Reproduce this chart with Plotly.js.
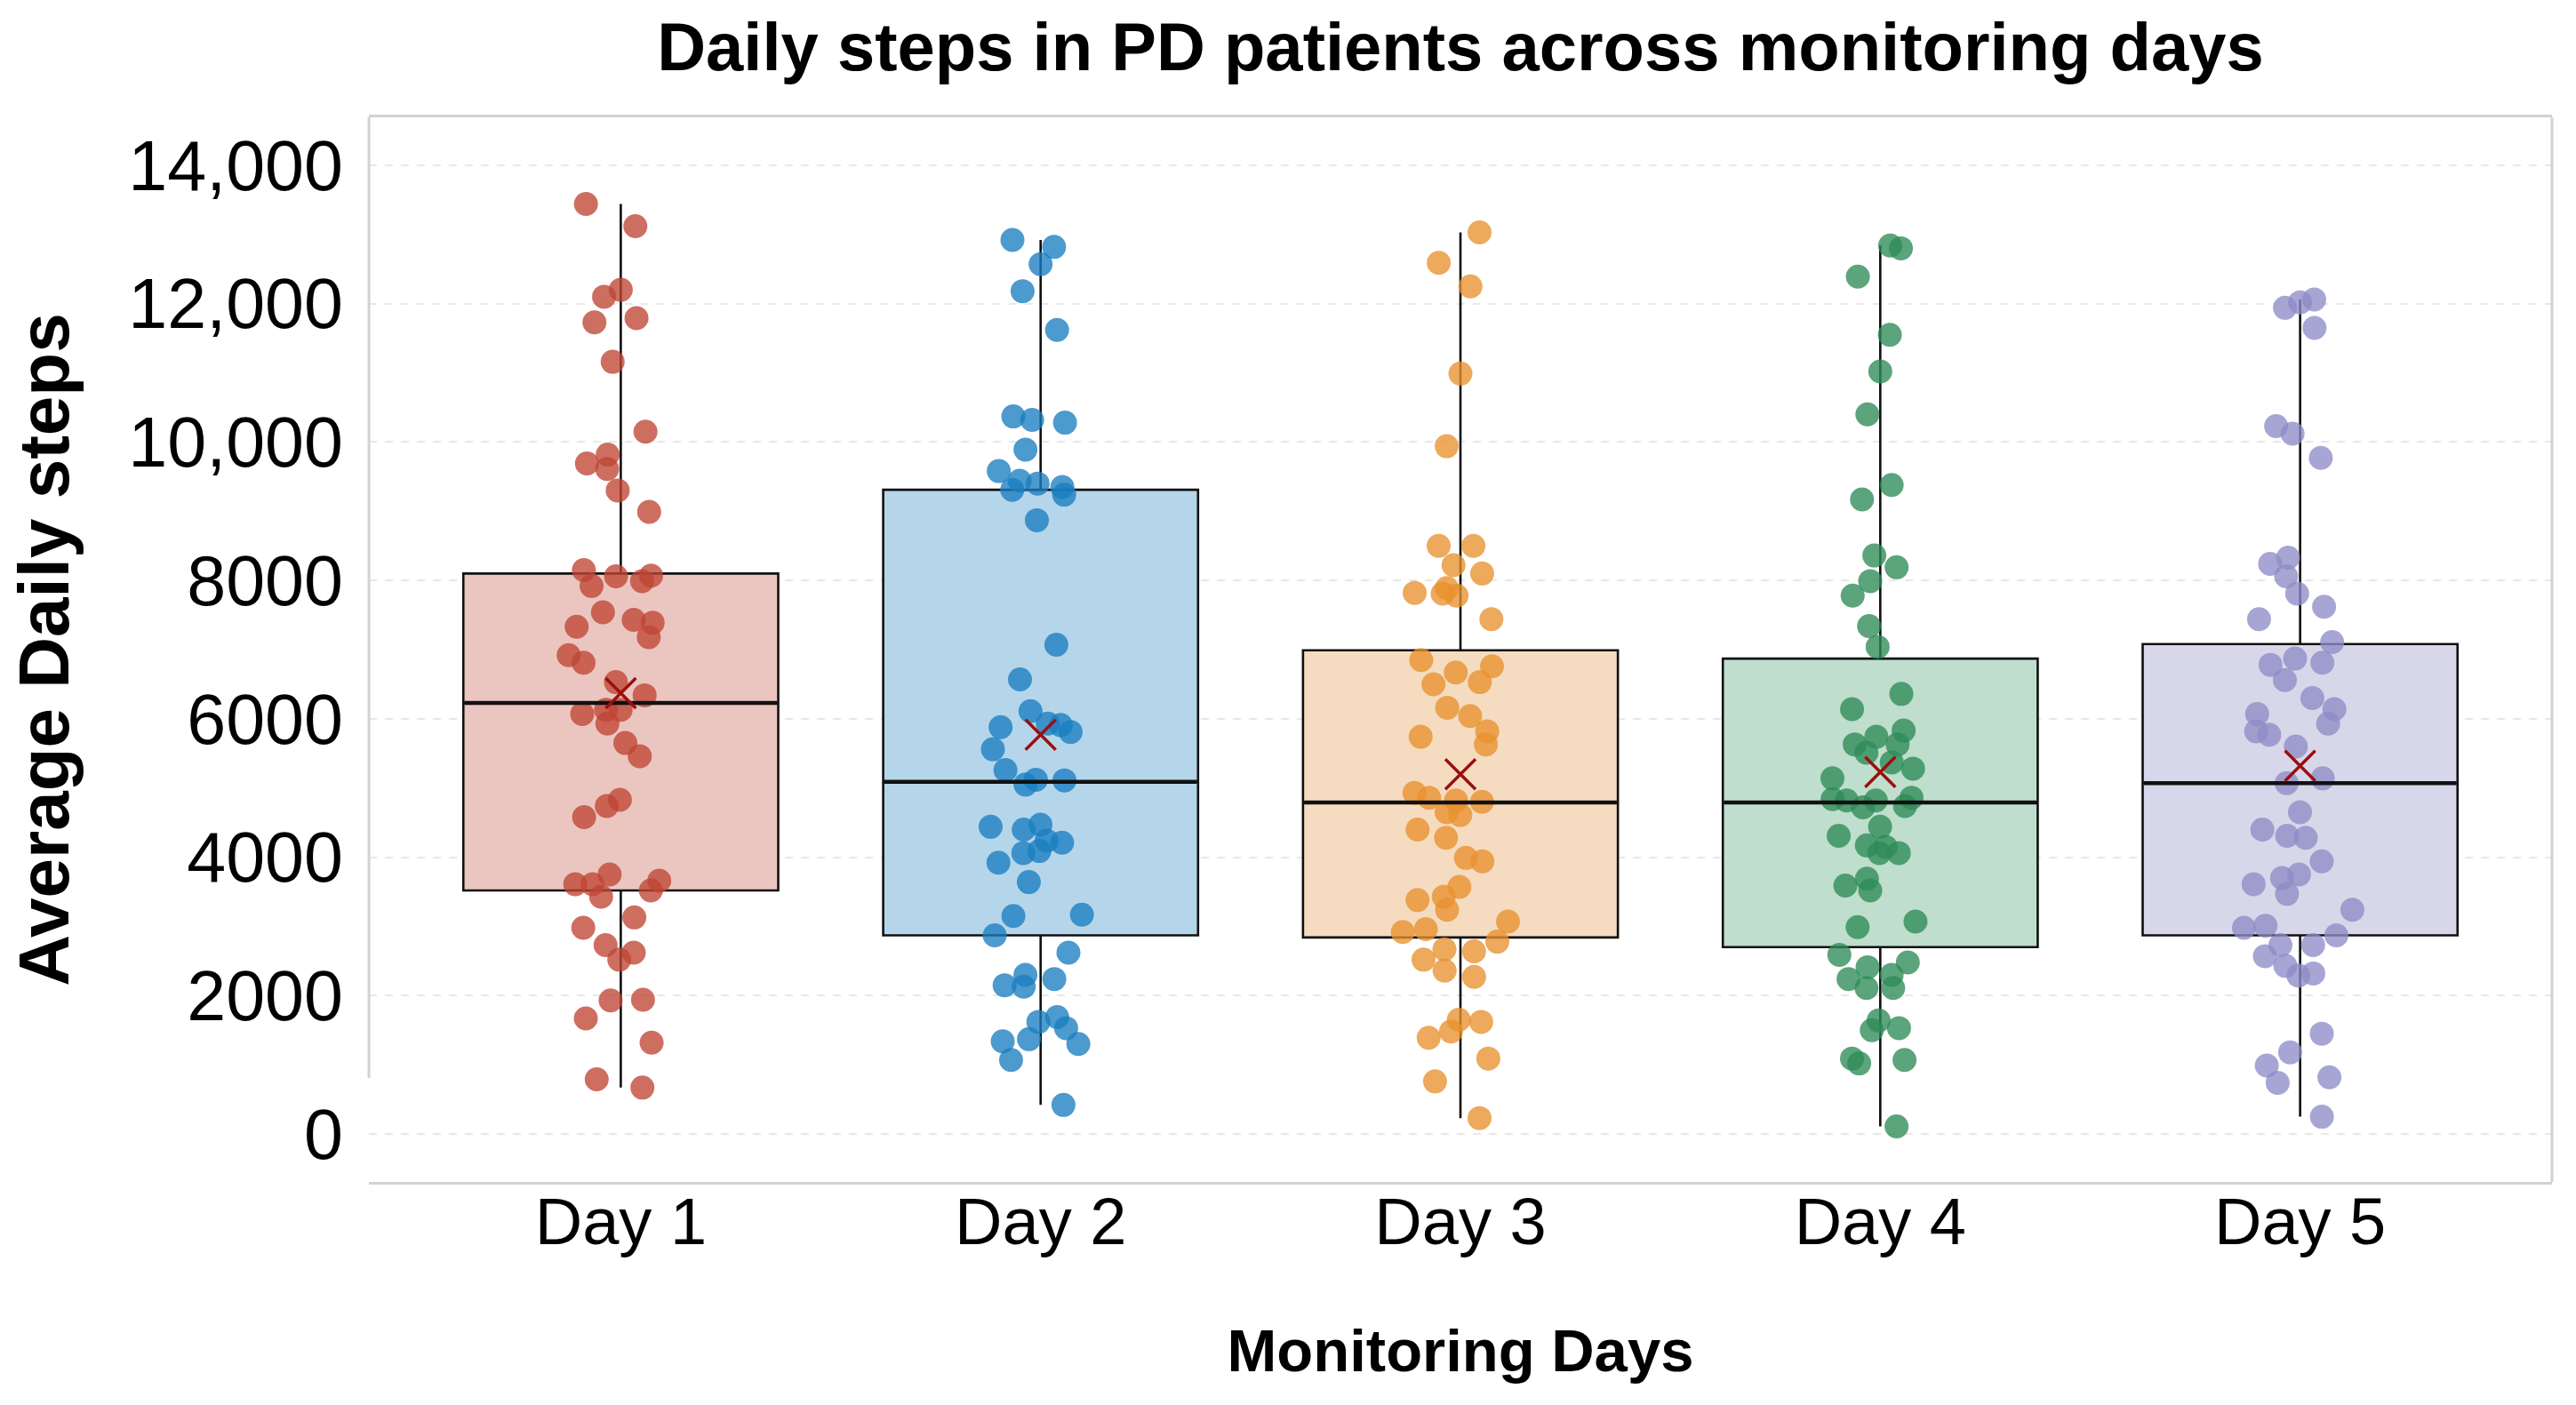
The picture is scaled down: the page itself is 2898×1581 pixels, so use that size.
<!DOCTYPE html>
<html>
<head>
<meta charset="utf-8">
<script src="https://cdn.plot.ly/plotly-3.0.1.min.js"></script>
<style>
  html, body { margin: 0; padding: 0; background: #ffffff; }
  #chart { width: 2898px; height: 1581px; }
</style>
</head>
<body>
<div id="chart"></div>
<script>
// ---- Data ----
const days = ["Day 1", "Day 2", "Day 3", "Day 4", "Day 5"];

const day1Steps = [13440,13120,12200,12100,11790,11730,11160,10150,9820,9690,9610,9300,8990,
  8150,8070,8060,7990,7920,7540,7430,7390,7330,7180,6920,6810,6530,6340,6130,6070,6130,5930,
  5650,5460,4830,4740,4580,3750,3660,3610,3610,3520,3430,3130,2980,2730,2620,2520,1940,1930,
  1670,1320,790,670];
const day2Steps = [12920,12820,12570,12180,11620,10370,10320,10280,9890,9580,9440,9400,9350,
  9310,9240,8870,7070,6570,6110,5880,5930,5910,5810,5560,5260,5110,5050,5120,4470,4400,4440,
  4240,4210,4090,4060,3920,3640,3150,3170,2870,2620,2300,2240,2130,2150,1690,1620,1530,1370,
  1340,1300,1070,420];
const day3Steps = [13030,12590,12250,10990,9940,8500,8500,8220,8100,7890,7820,7780,7810,7440,
  6850,6760,6670,6530,6500,6160,6040,5820,5740,5630,4930,4860,4820,4800,4650,4610,4400,4280,
  3990,3940,3570,3430,3380,3240,3070,2960,2920,2780,2670,2640,2520,2360,2270,1650,1620,1480,
  1390,1090,760,230];
const day4Steps = [12840,12800,12390,11550,11020,10400,9380,9170,8360,8190,7990,7780,7340,7040,
  6360,6140,5830,5740,5630,5630,5510,5370,5280,5140,4860,4840,4820,4820,4740,4720,4440,4310,
  4170,4150,4060,4060,3690,3590,3520,3070,2990,2590,2480,2410,2300,2240,2110,2110,1640,1530,
  1500,1090,1070,1020,110];
const day5Steps = [12060,12020,11940,11650,10230,10120,9770,8330,8240,8060,7810,7620,7440,7110,
  6870,6810,6780,6560,6300,6140,6070,5930,5820,5770,5600,5140,5070,4650,4400,4310,4280,3940,
  3750,3700,3610,3470,3240,3010,2980,2870,2730,2730,2570,2430,2320,2290,1450,1180,990,820,
  740,250];

const allSteps = [day1Steps, day2Steps, day3Steps, day4Steps, day5Steps];

// Box statistics
const q1Vals     = [3520, 2870, 2840, 2700, 2870];
const medianVals = [6230, 5090, 4790, 4790, 5070];
const q3Vals     = [8100, 9310, 6990, 6870, 7080];
const meanVals   = [6370, 5770, 5200, 5230, 5320];

const yTickVals  = [0, 2000, 4000, 6000, 8000, 10000, 12000, 14000];
const yTickText  = ["0", "2000", "4000", "6000", "8000", "10,000", "12,000", "14,000"];

// ---- Styles ----
const pointColors = ["#bf4535", "#1a7dc0", "#e8912e", "#2e8b57", "#8e8cc6"];
const fillColors  = ["#ebc6c0", "#b5d6ea", "#f5dcc0", "#bfdecd", "#d8d7e9"];
const FONT = "Liberation Sans, Arial, Helvetica, sans-serif";

const traces = [];

// Boxes from the read statistics
days.forEach((d, i) => {
  traces.push({
    type: "box",
    x: [d],
    q1: [q1Vals[i]],
    median: [medianVals[i]],
    q3: [q3Vals[i]],
    lowerfence: [Math.min(...allSteps[i])],
    upperfence: [Math.max(...allSteps[i])],
    width: 0.75,
    whiskerwidth: 0,
    fillcolor: fillColors[i],
    line: { color: "#111111", width: 2.6 },
    boxpoints: false,
    showlegend: false,
    hoverinfo: "skip"
  });
});

// Thicker median bars (drawn at the median values)
traces.push({
  type: "scatter",
  mode: "markers",
  x: days,
  y: medianVals,
  marker: { symbol: "line-ew", size: 251, color: "#111111", line: { color: "#111111", width: 4.5 } },
  showlegend: false,
  hoverinfo: "skip"
});

// Jittered raw points (box drawn invisibly, library jitter)
days.forEach((d, i) => {
  traces.push({
    type: "box",
    x: allSteps[i].map(() => d),
    y: allSteps[i],
    width: 0.75,
    boxpoints: "all",
    jitter: 0.38,
    pointpos: 0,
    fillcolor: "rgba(0,0,0,0)",
    line: { color: "rgba(0,0,0,0)", width: 0 },
    marker: { color: pointColors[i], size: 27, opacity: 0.78, line: { width: 0 } },
    showlegend: false,
    hoverinfo: "y"
  });
});

// Mean markers
traces.push({
  type: "scatter",
  mode: "markers",
  x: days,
  y: meanVals,
  marker: { symbol: "x-thin", size: 34, color: "#9b0f0f", line: { color: "#9b0f0f", width: 3.5 } },
  showlegend: false,
  hoverinfo: "y"
});

const layout = {
  width: 2898,
  height: 1581,
  paper_bgcolor: "#ffffff",
  plot_bgcolor: "#ffffff",
  margin: { l: 415, r: 27, t: 132, b: 251, pad: 0 },
  font: { family: FONT, color: "#000000" },
  boxmode: "overlay",
  showlegend: false,
  title: {
    text: "<b>Daily steps in PD patients across monitoring days</b>",
    font: { family: FONT, size: 76, color: "#000000" },
    x: 0.5, xref: "paper", xanchor: "center",
    y: 0.967, yref: "container", yanchor: "middle"
  },
  xaxis: {
    type: "category",
    categoryorder: "array",
    categoryarray: days,
    range: [-0.6, 4.6],
    showgrid: false,
    zeroline: false,
    showline: true,
    mirror: true,
    linecolor: "#d2d2d2",
    linewidth: 3,
    ticks: "",
    ticklabelstandoff: -22,
    tickfont: { family: FONT, size: 74, color: "#000000" },
    title: {
      text: "<b>Monitoring Days</b>",
      font: { family: FONT, size: 67, color: "#000000" },
      standoff: 82
    },
    automargin: false
  },
  yaxis: {
    range: [-693, 14693],
    tickvals: yTickVals,
    ticktext: yTickText,
    showgrid: true,
    gridcolor: "#e8e8e8",
    gridwidth: 2,
    griddash: "dash",
    zeroline: false,
    showline: false,
    ticks: "",
    ticklabelstandoff: 28,
    tickfont: { family: FONT, size: 79, color: "#000000" },
    title: {
      text: "<b>Average Daily steps</b>",
      font: { family: FONT, size: 80, color: "#000000" },
      standoff: 40
    },
    automargin: false
  },
  shapes: [
    { type: "line", xref: "paper", yref: "paper", x0: 0, x1: 0, y0: 0.0977, y1: 1,
      line: { color: "#d2d2d2", width: 3 } },
    { type: "line", xref: "paper", yref: "paper", x0: 1, x1: 1, y0: 0, y1: 1,
      line: { color: "#d2d2d2", width: 3 } }
  ]
};

Plotly.newPlot("chart", traces, layout, { staticPlot: true, displayModeBar: false });
</script>
</body>
</html>
